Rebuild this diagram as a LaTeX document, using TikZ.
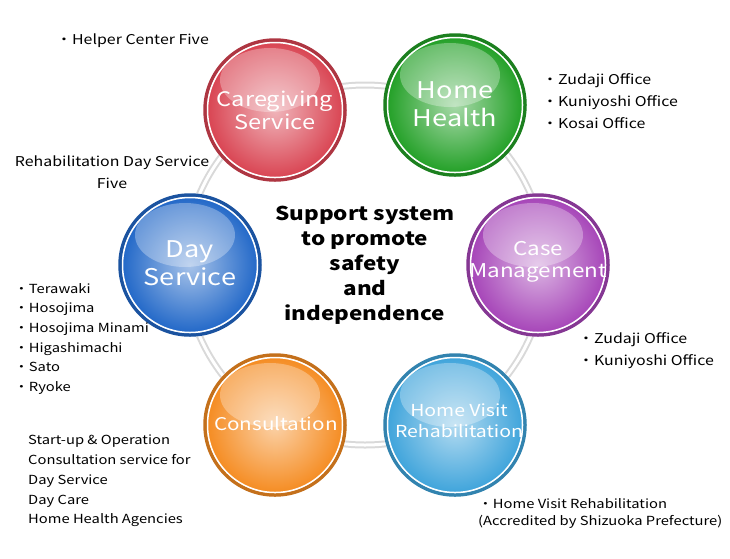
\documentclass[tikz,border=0pt]{standalone}
\usepackage{fontspec}
\setmainfont{Noto Sans CJK JP}[FakeStretch=1.18]
\usetikzlibrary{shadings}
\begin{document}
\begin{tikzpicture}[x=1pt,y=-1pt,
  ball/.style={circle,minimum size=128pt,inner sep=0pt,align=center,text=white,font=\fontsize{20}{23}\selectfont},
  side/.style={anchor=north west,align=left,font=\fontsize{13.5}{22}\selectfont,inner sep=0pt}]
\useasboundingbox (0,0) rectangle (730,558);
\definecolor{cr}{HTML}{D94452}\definecolor{cg}{HTML}{23A027}\definecolor{cp}{HTML}{A645B8}
\definecolor{cb}{HTML}{3FA4DB}\definecolor{co}{HTML}{F58C22}\definecolor{cd}{HTML}{2268C8}
\coordinate (ctr) at (365,265);
\draw[line width=7pt,black!15] (ctr) circle (180);
\draw[line width=3pt,white] (ctr) circle (180);
\foreach \n/\x/\y/\c in {a/275/110/cr,b/455/105/cg,c/538/265/cp,d/455/425/cb,e/275/425/co,f/190/265/cd}{
  \fill[white] (\x,\y) circle (72);
  \shade[inner color=\c!40,outer color=\c] (\x,\y) circle (68);
  \fill[white,opacity=0.3] (\x-5,\y-30) ellipse (50 and 32);
  \draw[\c!80!black,line width=3.5pt] (\x,\y) circle (70);
  \draw[white,line width=1.5pt] (\x,\y) circle (67.5);
}
\node[ball] (n1) at (275,110) {Caregiving\\Service};
\node[ball,font=\fontsize{23}{28}\selectfont] (n2) at (455,104) {Home\\Health};
\node[ball,font=\fontsize{19}{22}\selectfont] (n3) at (538,262) {Case\\Management};
\node[ball,font=\fontsize{16.5}{21}\selectfont] (n4) at (459,421) {Home Visit\\Rehabilitation};
\node[ball,font=\fontsize{17.5}{22}\selectfont] (n5) at (276,424) {Consultation};
\node[ball,font=\fontsize{23}{28}\selectfont] (n6) at (190,263) {Day\\Service};
\node[align=center,font=\bfseries\fontsize{19}{25}\selectfont] (t) at (365,265) {Support system\\to promote\\safety\\and\\independence};
\node[side] (s1) at (56,34) {・Helper Center Five};
\node[side] (s2) at (542,73) {・Zudaji Office\\・Kuniyoshi Office\\・Kosai Office};
\node[side,align=center,anchor=north] (s3) at (112,156) {Rehabilitation Day Service\\Five};
\node[side,font=\fontsize{12.5}{19.7}\selectfont] (s4) at (14,283) {・Terawaki\\・Hosojima\\・Hosojima Minami\\・Higashimachi\\・Sato\\・Ryoke};
\node[side] (s5) at (578,332) {・Zudaji Office\\・Kuniyoshi Office};
\node[side,font=\fontsize{12.5}{19.7}\selectfont] (s6) at (28,435) {Start-up \& Operation\\Consultation service for\\Day Service\\Day Care\\Home Health Agencies};
\node[side,font=\fontsize{12.5}{17}\selectfont] (s7) at (478,498) {・Home Visit Rehabilitation\\(Accredited by Shizuoka Prefecture)};
\end{tikzpicture}
\end{document}
